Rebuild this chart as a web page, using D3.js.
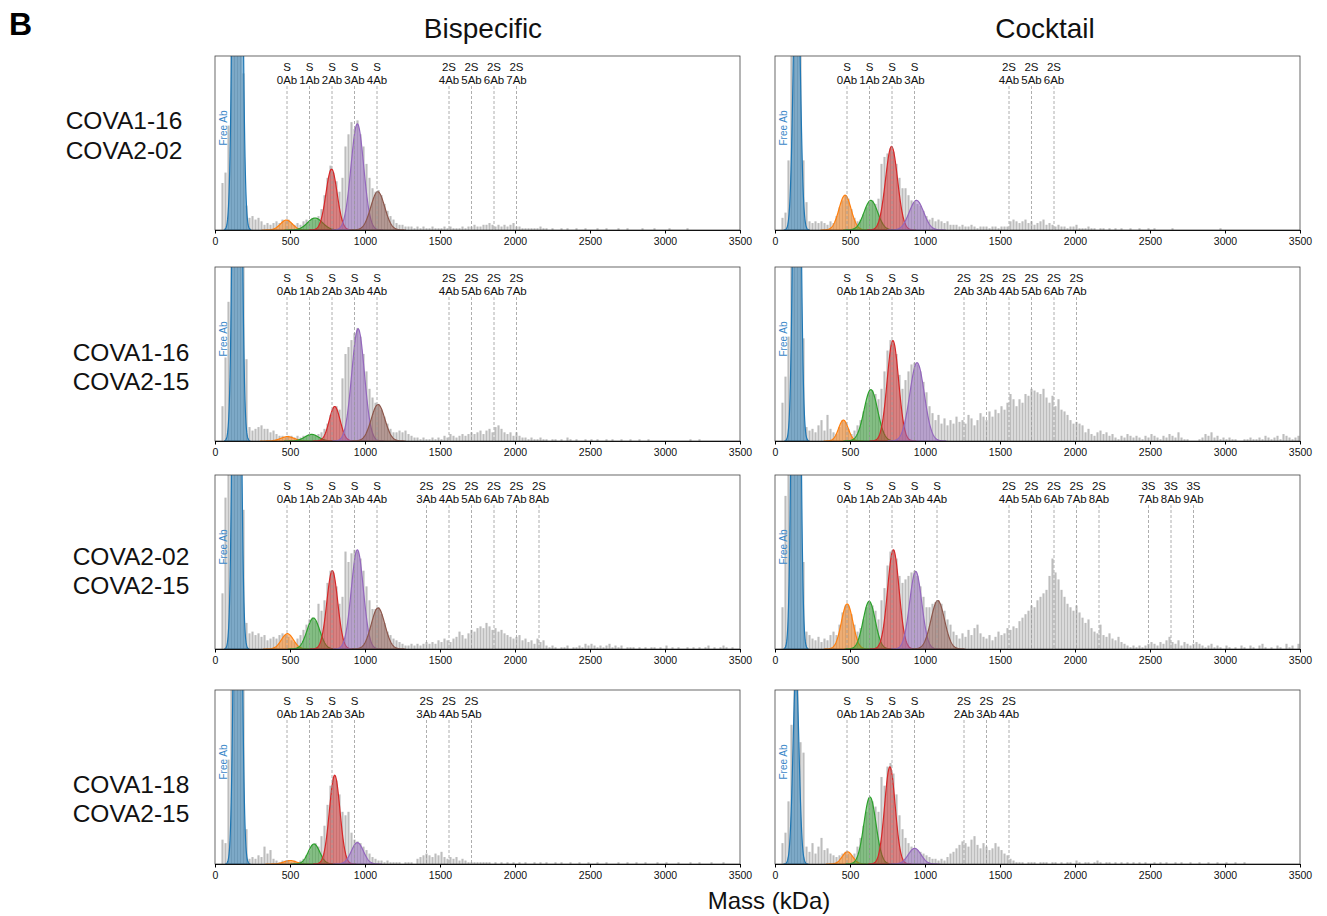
<!DOCTYPE html>
<html>
<head>
<meta charset="utf-8">
<script src="https://cdn.jsdelivr.net/npm/d3@7"></script>
<style>
  body { margin: 0; background: #fff; }
  svg { font-family: "Liberation Sans", Arial, sans-serif; }
</style>
</head>
<body>
<svg id="chart" width="1327" height="916"></svg>
<script>
// ---- data ----
const massTicks = [0, 500, 1000, 1500, 2000, 2500, 3000, 3500];
const binWidth = 20; // kDa per histogram bin, bins start at 0
const columnTitles = ["Bispecific", "Cocktail"];
const rowLabels = [
  ["COVA1-16", "COVA2-02"],
  ["COVA1-16", "COVA2-15"],
  ["COVA2-02", "COVA2-15"],
  ["COVA1-18", "COVA2-15"]
];
const spikeMass = 480;
const abMass = 150;
const fitColors = ["#1f77b4", "#ff7f0e", "#2ca02c", "#d62728", "#9467bd", "#8c564b"];

// histogram counts (% of panel height), one value per 20 kDa bin
const histBis1 = [
  0,0,27,33,60,140,250,260,220,90,
  14,7,8,6,7,5,3,4,3,4,
  5,4,6,5,6,4,3,4,3,5,
  6,5,7,6,8,12,20,30,37,33,
  28,22,30,48,55,62,58,63,55,48,
  38,30,24,22,23,20,15,11,8,6,
  4,3,3,2,2,2,1,2,1,2,
  1,1,2,1,1,1,2,1,2,1,
  1,1,2,1,2,2,3,2,2,3,
  3,4,3,2,3,2,3,2,3,4,
  2,2,1,1,1,1,1,1,2,1,
  1,0,1,0,0,1,0,1,0,0,
  1,0,0,1,0,0,0,1,0,0,
  1,0,0,0,1,0,0,1,0,0,
  0,0,1,0,0,0,1,0,0,0,
  0,1,0,0,0,0,0,1,0,0
];
const histCock1 = [
  0,0,7,10,40,110,170,180,120,40,
  16,5,4,5,4,5,4,3,5,4,
  8,13,17,20,18,12,7,5,6,9,
  13,16,17,15,18,38,42,44,47,45,
  38,30,24,24,20,17,16,15,14,11,
  8,6,7,5,6,5,4,5,3,3,
  3,2,3,2,2,3,2,1,2,2,
  2,1,2,2,1,2,2,2,5,6,
  5,4,5,6,4,5,3,4,5,6,
  3,4,3,2,3,2,2,1,2,2,
  3,1,1,1,2,1,1,0,1,1,
  0,1,0,1,0,1,0,0,1,0,
  0,1,0,0,1,0,1,0,0,0,
  0,0,1,0,0,0,0,0,0,0,
  0,0,0,0,0,0,0,0,1,0
];
const histBis2 = [
  0,0,20,48,80,200,300,300,250,120,
  47,8,6,7,8,9,7,7,5,6,
  4,3,3,2,3,3,2,3,2,3,
  3,4,4,3,4,5,7,10,15,19,
  20,18,36,50,54,58,62,65,60,50,
  40,30,25,22,21,18,14,10,7,5,
  5,6,5,6,4,3,2,2,1,2,
  1,1,2,1,2,1,3,2,4,3,
  2,3,4,3,4,5,4,5,6,4,
  6,7,5,8,9,7,5,4,5,3,
  5,3,2,2,1,2,1,1,2,1,
  1,0,1,1,0,1,0,2,1,0,
  1,0,0,1,0,1,0,1,0,0,
  1,0,1,0,0,1,0,0,1,0,
  0,1,0,0,1,0,0,0,0,0,
  0,0,0,0,0,0,0,0,1,0,
  0,1,0,0,0,0,0,0,0,0
];
const histCock2 = [
  0,0,22,37,60,160,280,300,200,59,
  8,6,7,5,9,12,6,15,7,5,
  4,8,12,11,7,4,6,9,12,17,
  22,28,29,27,24,30,40,52,58,56,
  50,38,30,35,40,44,45,44,40,34,
  28,20,16,12,15,10,13,9,12,10,
  14,11,12,10,15,13,9,12,16,14,
  12,17,14,18,16,20,18,22,27,24,
  20,24,22,27,26,30,29,28,27,30,
  25,22,26,20,24,18,17,15,12,10,
  11,10,9,5,7,4,3,5,6,4,
  5,3,4,2,1,3,2,4,3,2,
  3,2,1,3,2,4,3,2,1,3,
  2,4,3,2,5,2,1,1,0,0,
  0,1,2,4,3,5,2,3,1,2,
  1,2,1,1,0,0,1,1,2,1,
  1,2,1,3,2,1,2,3,1,4,
  3,2,1,2,3
];
const histBis3 = [
  0,0,32,87,100,250,300,300,200,80,
  15,9,10,8,9,7,8,5,6,7,
  6,8,9,8,7,5,4,6,8,11,
  14,17,18,16,26,22,28,38,45,44,
  36,26,30,56,50,55,57,56,52,45,
  36,28,23,23,24,20,15,10,8,6,
  5,4,3,2,2,3,2,3,2,3,
  4,3,4,3,5,4,6,5,4,6,
  7,10,8,6,9,11,10,12,13,12,
  15,13,11,12,10,11,9,8,7,6,
  7,8,5,6,4,5,3,6,4,5,
  2,1,2,1,0,1,1,2,0,1,
  1,2,1,3,2,3,2,1,2,1,
  2,3,1,2,1,2,0,1,1,1,
  0,1,0,1,0,1,1,0,1,0,
  2,0,1,0,1,0,0,1,0,1,
  0,1,0,1,2,0,1,0,1,2,
  1,0,1,0,0
];
const histCock3 = [
  0,0,24,88,120,250,300,280,180,50,
  10,8,6,5,7,4,6,5,8,10,
  8,14,21,25,25,20,14,10,12,17,
  24,27,25,22,17,28,35,48,56,57,
  52,42,38,40,42,44,45,42,36,30,
  24,24,26,27,28,26,22,17,14,10,
  8,6,9,7,11,8,12,14,9,7,
  6,8,5,7,10,8,9,12,11,13,
  12,16,18,20,22,25,24,28,30,32,
  34,42,52,44,40,34,30,26,24,22,
  25,21,18,15,17,12,10,9,14,8,
  7,9,6,5,7,4,3,2,1,2,
  1,2,1,2,3,4,3,2,4,3,
  5,7,4,3,5,2,4,3,2,3,
  4,3,2,1,2,3,1,2,1,0,
  2,1,0,1,0,2,1,0,2,1,
  0,2,3,1,0,1,0,2,1,0,
  3,1,2,0,3
];
const histBis4 = [
  0,0,14,12,60,200,320,400,320,120,
  20,3,4,3,5,4,10,6,8,3,
  2,1,2,2,2,1,2,1,2,3,
  5,8,11,12,10,16,22,34,45,50,
  48,40,30,28,30,18,14,13,12,10,
  8,6,4,3,2,2,1,2,1,1,
  1,1,0,1,1,1,0,3,4,5,
  6,5,4,6,5,7,4,3,4,3,
  4,2,3,2,1,1,1,1,1,1,
  1,1,0,1,0,1,0,1,0,1,
  0,1,0,1,0,0,1,0,1,0,
  1,0,0,1,0,1,0,0,1,0,
  0,1,0,0,1,0,0,1,0,0,
  1,0,0,0,1,0,0,1,0,0,
  1,0,0,1,0,0,0,1,0,0,
  1,0,0,0,1,0,0,0,1,0,
  0,1,0,0,0,1,0,0,0,1
];
const histCock4 = [
  0,0,12,18,36,80,105,100,70,64,
  10,7,12,6,10,15,8,9,6,5,
  4,5,6,7,6,5,6,10,15,22,
  30,37,36,33,30,50,45,56,58,52,
  40,28,20,15,12,10,9,8,7,6,
  5,4,3,3,2,3,2,4,6,7,
  9,11,13,12,10,14,16,11,9,12,
  10,8,9,12,10,8,6,5,3,2,
  1,1,1,0,1,1,1,0,1,1,
  1,0,1,1,0,1,0,1,1,0,
  2,1,0,1,1,0,1,2,1,0,
  1,1,0,1,0,1,0,1,0,1,
  0,1,0,1,0,0,1,0,1,0,
  1,0,0,1,0,1,0,0,1,0,
  0,1,0,0,1,0,0,1,0,0,
  1,0,0,1,0,0,1,0,0,0
];

// Gaussian fits: [centre kDa, sigma kDa, height %], order free Ab, S0Ab, S1Ab, S2Ab, S3Ab, S4Ab
const fitsBis1 = [[150, 22, 560], [476, 40, 5.7], [667, 50, 6.9], [777, 37, 35], [949, 42, 61], [1085, 46, 22]];
const fitsCock1 = [[145, 21, 180], [467, 40, 20], [639, 45, 17], [777, 40, 48], [943, 48, 17]];
const fitsBis2 = [[148, 21, 500], [483, 45, 2.5], [644, 45, 3.8], [798, 36, 19.8], [954, 42, 64.5], [1087, 45, 21]];
const fitsCock2 = [[146, 20, 350], [456, 32, 12], [639, 45, 29.5], [786, 38, 57.7], [947, 48, 45]];
const fitsBis3 = [[145, 20, 480], [483, 40, 8.8], [656, 42, 17.8], [782, 36, 45], [949, 40, 57], [1087, 45, 23.6]];
const fitsCock3 = [[140, 20, 550], [481, 38, 25.9], [628, 40, 27.4], [789, 38, 57], [938, 40, 44.6], [1085, 45, 27.8]];
const fitsBis4 = [[152, 20, 400], [500, 40, 2], [660, 38, 11.5], [798, 35, 51], [949, 40, 12.3]];
const fitsCock4 = [[140, 20, 110], [483, 35, 7], [633, 40, 38.5], [766, 35, 55.8], [931, 42, 9]];

// annotated species: [number of spikes, number of antibodies]
const peaksBis1 = [[1,0],[1,1],[1,2],[1,3],[1,4],[2,4],[2,5],[2,6],[2,7]];
const peaksCock1 = [[1,0],[1,1],[1,2],[1,3],[2,4],[2,5],[2,6]];
const peaksBis2 = [[1,0],[1,1],[1,2],[1,3],[1,4],[2,4],[2,5],[2,6],[2,7]];
const peaksCock2 = [[1,0],[1,1],[1,2],[1,3],[2,2],[2,3],[2,4],[2,5],[2,6],[2,7]];
const peaksBis3 = [[1,0],[1,1],[1,2],[1,3],[1,4],[2,3],[2,4],[2,5],[2,6],[2,7],[2,8]];
const peaksCock3 = [[1,0],[1,1],[1,2],[1,3],[1,4],[2,4],[2,5],[2,6],[2,7],[2,8],[3,7],[3,8],[3,9]];
const peaksBis4 = [[1,0],[1,1],[1,2],[1,3],[2,3],[2,4],[2,5]];
const peaksCock4 = [[1,0],[1,1],[1,2],[1,3],[2,2],[2,3],[2,4]];

// ---- layout ----
const colX = [215, 775];
const panelW = 525;
const rowY = [56, 267, 475, 690];
const panelH = 174;
const titleX = [483, 1045];
const rowLabelX = [124, 131, 131, 131];
const rowLabelY = [[120, 150], [352, 381], [556, 585], [784, 813]];

const panels = [
  {row: 0, col: 0, hist: histBis1, fits: fitsBis1, peaks: peaksBis1},
  {row: 0, col: 1, hist: histCock1, fits: fitsCock1, peaks: peaksCock1},
  {row: 1, col: 0, hist: histBis2, fits: fitsBis2, peaks: peaksBis2},
  {row: 1, col: 1, hist: histCock2, fits: fitsCock2, peaks: peaksCock2},
  {row: 2, col: 0, hist: histBis3, fits: fitsBis3, peaks: peaksBis3},
  {row: 2, col: 1, hist: histCock3, fits: fitsCock3, peaks: peaksCock3},
  {row: 3, col: 0, hist: histBis4, fits: fitsBis4, peaks: peaksBis4},
  {row: 3, col: 1, hist: histCock4, fits: fitsCock4, peaks: peaksCock4}
];

const svg = d3.select('#chart');

const x = d3.scaleLinear().domain([0, 3500]).range([0, panelW]);
const y = d3.scaleLinear().domain([0, 100]).range([panelH, 0]);

const area = d3.area()
  .x(d => x(d[0]))
  .y0(panelH)
  .y1(d => y(d[1]));

function gaussPoints(f) {
  const [c, s, h] = f;
  return d3.range(c - 4 * s, c + 4 * s + 1, 2).map(m => [m, h * Math.exp(-((m - c) ** 2) / (2 * s * s))]);
}

panels.forEach((p, k) => {
  const g = svg.append('g')
    .attr('transform', 'translate(' + colX[p.col] + ',' + rowY[p.row] + ')');

  g.append('clipPath').attr('id', 'clip' + k)
    .append('rect').attr('width', panelW).attr('height', panelH);

  const plot = g.append('g').attr('clip-path', 'url(#clip' + k + ')');

  // histogram
  plot.selectAll('.bar')
      .data(p.hist.map((v, i) => ({i, v})).filter(d => d.v > 0))
    .enter().append('rect')
      .attr('class', 'bar')
      .attr('x', d => x(d.i * binWidth + binWidth * 0.15))
      .attr('width', x(binWidth * 0.7) - x(0))
      .attr('y', d => y(d.v))
      .attr('height', d => panelH - y(d.v))
      .attr('fill', '#bdbdbd');

  // fitted gaussians
  plot.selectAll('.fit')
      .data(p.fits)
    .enter().append('path')
      .attr('class', 'fit')
      .attr('d', f => area(gaussPoints(f)))
      .attr('fill', (f, i) => fitColors[i])
      .attr('fill-opacity', 0.5)
      .attr('stroke', (f, i) => fitColors[i])
      .attr('stroke-width', 1.2);

  // species markers
  const mk = g.selectAll('.peak')
      .data(p.peaks)
    .enter().append('g')
      .attr('class', 'peak')
      .attr('transform', d => 'translate(' + x(d[0] * spikeMass + d[1] * abMass) + ',0)');
  mk.append('line')
    .attr('y1', 30).attr('y2', panelH)
    .attr('stroke', '#999').attr('stroke-width', 0.8)
    .attr('stroke-dasharray', '3,2');
  mk.append('text')
    .attr('y', 14.5).attr('text-anchor', 'middle')
    .attr('font-size', 11.5).attr('fill', '#111')
    .text(d => (d[0] > 1 ? d[0] : '') + 'S');
  mk.append('text')
    .attr('y', 27.5).attr('text-anchor', 'middle')
    .attr('font-size', 11.5).attr('fill', '#111')
    .text(d => d[1] + 'Ab');

  g.append('text')
    .attr('transform', 'translate(12,' + 72 + ') rotate(-90)')
    .attr('text-anchor', 'middle')
    .attr('font-size', 10)
    .attr('fill', '#3a87c8')
    .text('Free Ab');

  // frame
  g.append('rect')
    .attr('width', panelW).attr('height', panelH)
    .attr('fill', 'none').attr('stroke', '#444').attr('stroke-width', 0.8);

  const axis = g.append('g')
    .attr('class', 'x axis')
    .attr('transform', 'translate(0,' + panelH + ')')
    .call(d3.axisBottom(x).tickValues(massTicks).tickFormat(d3.format('d'))
      .tickSize(3.5).tickPadding(4.5).tickSizeOuter(0));
  axis.selectAll('text').attr('font-size', 10.5).attr('fill', '#111').attr('font-family', '"Liberation Sans", Arial, sans-serif');
  axis.select('.domain').attr('stroke', '#111').attr('stroke-width', 1);
});

// titles
svg.selectAll('.coltitle')
    .data(columnTitles)
  .enter().append('text')
    .attr('class', 'coltitle')
    .attr('x', (d, i) => titleX[i])
    .attr('y', 38)
    .attr('text-anchor', 'middle')
    .attr('font-size', 28)
    .attr('fill', '#111')
    .text(d => d);

rowLabels.forEach((lines, r) => {
  lines.forEach((t, j) => {
    svg.append('text')
      .attr('x', rowLabelX[r])
      .attr('y', rowLabelY[r][j] + 8.5)
      .attr('text-anchor', 'middle')
      .attr('font-size', 24.5)
      .attr('fill', '#111')
      .text(t);
  });
});

svg.append('text')
  .attr('x', 769).attr('y', 909)
  .attr('text-anchor', 'middle')
  .attr('font-size', 24)
  .attr('fill', '#111')
  .text('Mass (kDa)');

svg.append('text')
  .attr('x', 9).attr('y', 35)
  .attr('font-size', 32)
  .attr('font-weight', 'bold')
  .text('B');
</script>
</body>
</html>
